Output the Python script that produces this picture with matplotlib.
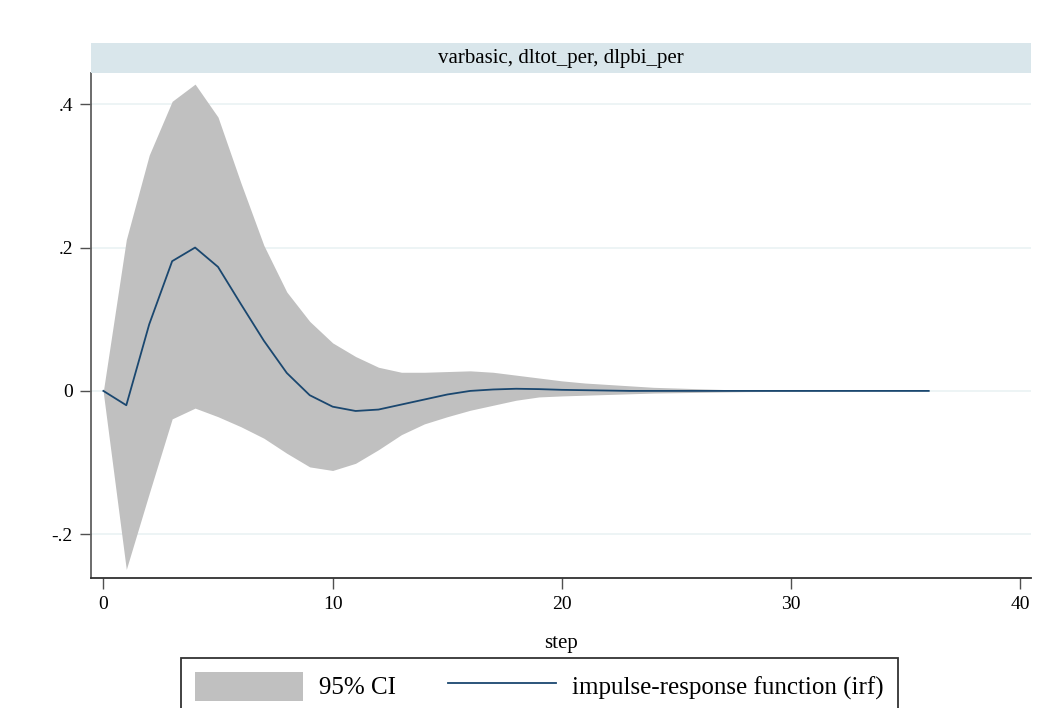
import numpy as np
import matplotlib.pyplot as plt
from matplotlib.patches import Rectangle

plt.rcParams['font.family'] = ['Liberation Serif', 'DejaVu Serif']

# impulse-response of dlpbi_per to a dltot_per shock, steps 0..36
step = np.arange(0, 37)
irf = [0.0, -0.020, 0.093, 0.181, 0.200, 0.173, 0.121, 0.070, 0.025, -0.006,
       -0.022, -0.028, -0.026, -0.019, -0.012, -0.005, 0.000, 0.002, 0.003, 0.0025,
       0.0015, 0.001, 0.0005, 0.0, 0.0, 0.0, 0.0, 0.0, 0.0, 0.0,
       0.0, 0.0, 0.0, 0.0, 0.0, 0.0, 0.0]
ci_upper = [0.0, 0.211, 0.329, 0.404, 0.428, 0.382, 0.290, 0.203, 0.138, 0.097,
            0.067, 0.048, 0.033, 0.026, 0.026, 0.027, 0.028, 0.026, 0.022, 0.018,
            0.014, 0.011, 0.009, 0.007, 0.005, 0.004, 0.003, 0.002, 0.0015, 0.001,
            0.0008, 0.0006, 0.0004, 0.0003, 0.0002, 0.0001, 0.0001]
ci_lower = [-0.003, -0.249, -0.143, -0.039, -0.024, -0.036, -0.050, -0.066, -0.087, -0.106,
            -0.111, -0.101, -0.082, -0.061, -0.046, -0.036, -0.027, -0.020, -0.013, -0.0084,
            -0.007, -0.006, -0.005, -0.004, -0.003, -0.0025, -0.002, -0.0015, -0.001, -0.0008,
            -0.0006, -0.0004, -0.0003, -0.0002, -0.0001, -0.0001, -0.0001]

yticks = [-0.2, 0, 0.2, 0.4]
ytick_labels = ['-.2', '0', '.2', '.4']
xticks = [0, 10, 20, 30, 40]

W, H = 1051, 708
fig = plt.figure(figsize=(W / 100, H / 100), dpi=100)
ax = fig.add_axes([91 / W, 1 - 578 / H, (1031 - 91) / W, (578 - 73) / H])

ax.fill_between(step, ci_lower, ci_upper, color='#c0c0c0', lw=0, label='95% CI', zorder=2)
ax.plot(step, irf, color='#1a476f', lw=1.3, label='impulse-response function (irf)', zorder=3)

ax.set_xlim(-0.54, 40.46)
ax.set_ylim(-0.261, 0.4435)
ax.set_yticks(yticks)
ax.set_yticklabels(ytick_labels)
ax.set_xticks(xticks)
ax.grid(axis='y', color='#eaf2f3', lw=1.2, zorder=0)
ax.set_axisbelow(True)

for s in ['top', 'right']:
    ax.spines[s].set_visible(False)
for s in ['left', 'bottom']:
    ax.spines[s].set_color('#606060')
    ax.spines[s].set_linewidth(1.3)
ax.spines['bottom'].set_color('#303030')
ax.tick_params(axis='both', length=8, width=1.0, color='#505050', labelsize=14, pad=5)
ax.set_xlabel('step', fontsize=15, labelpad=15)

# header strip with the impulse/response names
strip = Rectangle((91 / W, 1 - 73 / H), (1031 - 91) / W, 30 / H,
                  transform=fig.transFigure, facecolor='#d9e6eb', edgecolor='none')
fig.patches.append(strip)
fig.text(561 / W, 1 - 58 / H, 'varbasic, dltot_per, dlpbi_per', ha='center', va='center',
         fontsize=15)

leg = fig.legend(loc='upper center', bbox_to_anchor=(539.5 / W, 1 - 658 / H), ncol=2,
                 fontsize=18, frameon=True, fancybox=False, edgecolor='black',
                 handlelength=4.3, handleheight=1.4, columnspacing=2.1,
                 borderpad=0.55, handletextpad=0.65, borderaxespad=0)
leg.get_frame().set_linewidth(1.3)

fig.savefig('out.png', dpi=100)
